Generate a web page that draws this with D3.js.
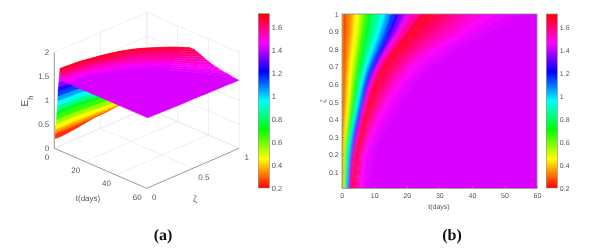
<!DOCTYPE html>
<html>
<head>
<meta charset="utf-8">
<script src="https://cdn.jsdelivr.net/npm/d3@7"></script>
<style>
    html, body { margin: 0; padding: 0; background: #fff; }
    svg { display: block; filter: blur(0.35px); }
    text { font-family: "Liberation Sans", Arial, sans-serif; fill: #555; text-rendering: geometricPrecision; }
</style>
</head>
<body>
<svg id="chart" width="598" height="248"></svg>
<script>
// zeta rows of the solution
var zetaRows = [0.01, 0.1, 0.2, 0.3, 0.4, 0.5, 0.6, 0.7, 0.8, 0.9, 1];

// lowest and highest E_h reached on each zeta row, and the value it settles to at t = 60
var troughValues = [0.19, 0.2, 0.22, 0.25, 0.28, 0.3, 0.32, 0.34, 0.36, 0.38, 0.4];
var ridgeValues = [1.71, 1.71, 1.71, 1.7, 1.7, 1.7, 1.69, 1.68, 1.67, 1.66, 1.65];
var plateauValues = [1.46, 1.455, 1.45, 1.445, 1.44, 1.44, 1.435, 1.43, 1.43, 1.425, 1.42];

// E_h levels in the order they are met along t
var levelValues = [0.46, 0.45, 0.3, 0.2, 0.3, 0.35, 0.4, 0.5, 0.6, 0.7, 0.8, 0.9, 1, 1.1, 1.2, 1.3, 1.4, 1.5, 1.6, 1.7,
    1.675, 1.65, 1.625, 1.6, 1.575, 1.55, 1.525, 1.5, 1.48, 1.46, 1.445, 1.43, 1.43];

// t(days) at which each level is met, one line per level, one column per zeta row
var tCrossings = [
    [0, 0, 0, 0, 0, 0, 0, 0, 0, 0, 0],
    [0.05, 0.05, 0.05, 0.1, 0.1, 0.15, 0.2, 0.2, 0.25, 0.3, 0.3],
    [0.1, 0.1, 0.1, 0.15, 0.15, 0.2, 0.25, 0.25, 0.3, 0.35, 0.4],
    [0.2, 0.2, 0.2, 0.25, 0.25, 0.3, 0.3, 0.35, 0.35, 0.4, 0.45],
    [0.3, 0.3, 0.35, 0.45, 0.55, 0.7, 0.8, 0.95, 1.1, 1.3, 1.5],
    [0.36, 0.4, 0.45, 0.65, 0.9, 1.15, 1.4, 1.7, 2.1, 2.6, 3],
    [0.42, 0.5, 0.55, 0.8, 1.2, 1.6, 1.9, 2.3, 2.9, 3.5, 4],
    [0.6, 0.7, 0.8, 1.2, 1.8, 2.4, 2.9, 3.5, 4.2, 5, 5.6],
    [0.8, 0.9, 1.05, 1.6, 2.3, 3, 3.6, 4.4, 5.2, 6.1, 7],
    [1, 1.1, 1.3, 2, 2.8, 3.6, 4.3, 5.2, 6.2, 7.2, 8.2],
    [1.2, 1.4, 1.6, 2.4, 3.3, 4.2, 5, 6.1, 7.4, 8.7, 10],
    [1.45, 1.7, 2, 2.8, 3.8, 4.8, 5.8, 7.1, 8.8, 10.5, 12.2],
    [1.65, 1.95, 2.35, 3.1, 4.2, 5.3, 6.4, 7.9, 9.9, 11.9, 14],
    [1.75, 2.15, 2.6, 3.5, 4.6, 5.9, 7, 8.7, 11, 13.2, 15.5],
    [1.85, 2.3, 2.9, 3.8, 5, 6.4, 7.6, 9.5, 12, 14.4, 16.9],
    [2.1, 2.55, 3.15, 4.15, 5.35, 6.7, 8.05, 10.1, 12.9, 15.6, 18.6],
    [2.35, 2.8, 3.4, 4.45, 5.65, 7, 8.5, 10.7, 13.6, 16.9, 20.3],
    [2.6, 3.05, 3.65, 4.8, 6, 7.3, 8.9, 11.2, 14.4, 18, 22],
    [2.9, 3.35, 3.95, 5.2, 6.5, 8, 9.8, 12.2, 15.8, 19.9, 25],
    [3.2, 3.7, 4.3, 5.6, 7, 8.7, 10.6, 13.3, 17.3, 21.8, 28],
    [3.4, 3.9, 4.5, 5.85, 7.3, 9.1, 11.1, 13.95, 18.15, 22.9, 29.5],
    [3.6, 4.1, 4.75, 6.1, 7.6, 9.5, 11.6, 14.6, 19, 24, 31],
    [3.9, 4.4, 5.05, 6.5, 8.1, 10.15, 12.4, 15.6, 20.25, 25.75, 33],
    [4.2, 4.7, 5.4, 6.9, 8.6, 10.8, 13.2, 16.6, 21.5, 27.5, 35],
    [4.5, 5, 5.7, 7.25, 9.05, 11.4, 14, 17.6, 22.75, 29.25, 36.75],
    [4.8, 5.3, 6, 7.6, 9.5, 12, 14.8, 18.6, 24, 31, 38.5],
    [5.15, 5.65, 6.35, 8.05, 10.05, 12.65, 15.65, 19.7, 25.5, 33, 40.75],
    [5.5, 6, 6.7, 8.5, 10.6, 13.3, 16.5, 20.8, 27, 35, 43],
    [5.85, 6.4, 7.15, 9.05, 11.3, 14.15, 17.55, 22.15, 28.5, 37, 46],
    [6.2, 6.8, 7.6, 9.6, 12, 15, 18.6, 23.5, 30, 39, 49],
    [7.1, 7.9, 8.8, 10.8, 13.5, 16.5, 20.3, 25.3, 32.5, 42, 53],
    [8, 9, 10, 12, 15, 18, 22, 27, 35, 45, 57],
    [60, 60, 60, 60, 60, 60, 60, 60, 60, 60, 60]
];

// colour range and ticks
var colorDomain = [0.2, 1.72];
var colorStops = ["#ff0000", "#ffff00", "#00ff00", "#00ffff", "#0000ff", "#ff00ff", "#ff0000"];
var colorTicks = [0.2, 0.4, 0.6, 0.8, 1, 1.2, 1.4, 1.6];
var tTicks3d = [0, 20, 40, 60];
var zetaTicks3d = [0, 0.5, 1];
var zTicks3d = [0, 0.5, 1, 1.5, 2];
var tTicksMap = [0, 10, 20, 30, 40, 50, 60];
var zetaTicksMap = [0.1, 0.2, 0.3, 0.4, 0.5, 0.6, 0.7, 0.8, 0.9, 1];

var axisColor = "#888";
var gridColor = "#e8e8e8";
var svg = d3.select("#chart");

// hsv style colour map over the E_h range
var colorValue = d3.scaleLinear()
    .domain(d3.range(colorStops.length).map(function (i) {
        return colorDomain[0] + (colorDomain[1] - colorDomain[0]) * i / (colorStops.length - 1);
    }))
    .range(colorStops)
    .clamp(true);

var defs = svg.append("defs");

var gradient = defs.append("linearGradient")
    .attr("id", "colorbarGradient")
    .attr("x1", 0).attr("x2", 0).attr("y1", 1).attr("y2", 0);
colorStops.forEach(function (c, i) {
    gradient.append("stop").attr("offset", i / (colorStops.length - 1)).attr("stop-color", c);
});

defs.append("filter").attr("id", "softMap")
    .attr("x", "-5%").attr("y", "-5%").attr("width", "110%").attr("height", "110%")
    .append("feGaussianBlur").attr("stdDeviation", 1);

defs.append("filter").attr("id", "softSurface")
    .attr("x", "-5%").attr("y", "-5%").attr("width", "110%").attr("height", "110%")
    .append("feGaussianBlur").attr("stdDeviation", 0.3);

defs.append("clipPath").attr("id", "mapClip")
    .append("rect").attr("x", 341.7).attr("y", 14).attr("width", 195.3).attr("height", 174);

function drawColorbar(x, y0, y1, fontSize) {
    var scale = d3.scaleLinear().domain(colorDomain).range([y1, y0]);
    var g = svg.append("g");
    g.append("rect")
        .attr("x", x).attr("y", y0)
        .attr("width", 11).attr("height", y1 - y0)
        .attr("fill", "url(#colorbarGradient)")
        .attr("stroke", axisColor)
        .attr("stroke-width", 0.6);
    g.selectAll("text").data(colorTicks).enter().append("text")
        .attr("x", x + 13.5)
        .attr("y", function (d) { return scale(d) + 2.6; })
        .style("font-size", fontSize + "px")
        .text(function (d) { return d; });
}

// ---------- (a) surface ----------
var originX = 54.3, originY = 148.3;
var tX = d3.scaleLinear().domain([0, 60]).range([0, 92.4]);
var tY = d3.scaleLinear().domain([0, 60]).range([0, 40]);
var zetaX = d3.scaleLinear().domain([0, 1]).range([0, 92.5]);
var zetaY = d3.scaleLinear().domain([0, 1]).range([0, -40]);
var zY = d3.scaleLinear().domain([0, 2]).range([0, -96]);

function px(t, zeta) { return originX + tX(t) + zetaX(zeta); }
function py(t, zeta, z) { return originY + tY(t) + zetaY(zeta) + zY(z); }

var panelA = svg.append("g");

function seg(g, x1, y1, x2, y2, color, w) {
    g.append("line")
        .attr("x1", x1).attr("y1", y1).attr("x2", x2).attr("y2", y2)
        .attr("stroke", color).attr("stroke-width", w);
}

// walls and floor grid
zTicks3d.forEach(function (z) {
    seg(panelA, px(0, 0), py(0, 0, z), px(0, 1), py(0, 1, z), gridColor, 0.7);
    seg(panelA, px(0, 1), py(0, 1, z), px(60, 1), py(60, 1, z), gridColor, 0.7);
});
tTicks3d.forEach(function (t) {
    seg(panelA, px(t, 0), py(t, 0, 0), px(t, 1), py(t, 1, 0), gridColor, 0.7);
    seg(panelA, px(t, 1), py(t, 1, 0), px(t, 1), py(t, 1, 2), gridColor, 0.7);
});
zetaTicks3d.forEach(function (zeta) {
    seg(panelA, px(0, zeta), py(0, zeta, 0), px(60, zeta), py(60, zeta, 0), gridColor, 0.7);
    seg(panelA, px(0, zeta), py(0, zeta, 0), px(0, zeta), py(0, zeta, 2), gridColor, 0.7);
});

// axes
seg(panelA, px(0, 0), py(0, 0, 0), px(0, 0), py(0, 0, 2), axisColor, 0.8);
seg(panelA, px(0, 0), py(0, 0, 0), px(60, 0), py(60, 0, 0), axisColor, 0.8);
seg(panelA, px(60, 0), py(60, 0, 0), px(60, 1), py(60, 1, 0), axisColor, 0.8);

// height of level line i on row j
function rowZ(i, j) {
    if (i >= levelValues.length - 2) return plateauValues[j];
    return Math.min(Math.max(levelValues[i], troughValues[j]), ridgeValues[j]);
}

// level ribbons are painted from far (small t) to near (large t)
var ribbons = d3.range(levelValues.length - 1);

var ribbonArea = d3.area().curve(d3.curveCatmullRom);

panelA.append("g")
    .attr("filter", "url(#softSurface)")
    .selectAll("path").data(ribbons).enter().append("path")
    .attr("d", function (i) {
        var a = tCrossings[i], b = tCrossings[i + 1];
        return ribbonArea
            .x0(function (zeta, j) { return px(a[j], zeta); })
            .y0(function (zeta, j) { return py(a[j], zeta, rowZ(i, j)); })
            .x1(function (zeta, j) { return px(b[j], zeta); })
            .y1(function (zeta, j) { return py(b[j], zeta, rowZ(i + 1, j)); })(zetaRows);
    })
    .attr("fill", function (i) { return colorValue((levelValues[i] + levelValues[i + 1]) / 2); })
    .attr("stroke", function (i) { return colorValue((levelValues[i] + levelValues[i + 1]) / 2); })
    .attr("stroke-width", 0.5);

// tick labels of the 3d box
panelA.selectAll(".zLabel").data(zTicks3d).enter().append("text")
    .attr("x", originX - 5)
    .attr("y", function (d) { return py(0, 0, d) + 2.8; })
    .attr("text-anchor", "end")
    .style("font-size", "8px")
    .text(function (d) { return d; });
panelA.selectAll(".tLabel").data(tTicks3d).enter().append("text")
    .attr("x", function (d) { return px(d, 0) - 5; })
    .attr("y", function (d) { return py(d, 0, 0) + 11.5; })
    .attr("text-anchor", "end")
    .style("font-size", "8px")
    .text(function (d) { return d; });
panelA.selectAll(".zetaLabel").data(zetaTicks3d).enter().append("text")
    .attr("x", function (d) { return px(60, d) + 5.3; })
    .attr("y", function (d) { return py(60, d, 0) + 11.5; })
    .style("font-size", "8px")
    .text(function (d) { return d; });

panelA.append("text")
    .attr("x", 88).attr("y", 201)
    .attr("text-anchor", "middle")
    .style("font-size", "8px")
    .text("t(days)");
panelA.append("text")
    .attr("x", 195).attr("y", 202)
    .attr("text-anchor", "middle")
    .style("font-size", "9px")
    .text("\u03b6");

var eLabel = panelA.append("text")
    .attr("transform", "translate(28,101) rotate(-90)")
    .attr("text-anchor", "middle")
    .style("font-size", "10px");
eLabel.append("tspan").text("E");
eLabel.append("tspan").attr("baseline-shift", "sub").style("font-size", "7.5px").text("h");

drawColorbar(258.3, 13.7, 188, 7.5);

// ---------- (b) colour map ----------
var mapX = d3.scaleLinear().domain([0, 60]).range([341.7, 537]);
var mapY = d3.scaleLinear().domain([0.01, 1]).range([188, 14]);

var panelB = svg.append("g");

// rows at the rim are pushed outwards so the soft edge stays out of the clipped box
function rimY(j) {
    var y = mapY(zetaRows[j]);
    if (j === 0) return y + 6;
    if (j === zetaRows.length - 1) return y - 6;
    return y;
}

var mapArea = d3.area().curve(d3.curveMonotoneY);

panelB.append("g")
    .attr("clip-path", "url(#mapClip)")
    .append("g")
    .attr("filter", "url(#softMap)")
    .selectAll("path").data(ribbons).enter().append("path")
    .attr("d", function (i) {
        var a = tCrossings[i], b = tCrossings[i + 1];
        return mapArea
            .y(function (zeta, j) { return rimY(j); })
            .x0(function (zeta, j) { return i === 0 ? mapX(a[j]) - 6 : mapX(a[j]); })
            .x1(function (zeta, j) { return i === ribbons.length - 1 ? mapX(b[j]) + 6 : mapX(b[j]); })(zetaRows);
    })
    .attr("fill", function (i) { return colorValue((levelValues[i] + levelValues[i + 1]) / 2); })
    .attr("stroke", function (i) { return colorValue((levelValues[i] + levelValues[i + 1]) / 2); })
    .attr("stroke-width", 0.5);

var xAxis = panelB.append("g")
    .attr("transform", "translate(0,188)")
    .call(d3.axisBottom(mapX).tickValues(tTicksMap).tickSizeInner(-2).tickSizeOuter(0).tickPadding(5));
var yAxis = panelB.append("g")
    .attr("transform", "translate(341.7,0)")
    .call(d3.axisLeft(mapY).tickValues(zetaTicksMap).tickFormat(d3.format("~g")).tickSizeInner(-2).tickSizeOuter(0).tickPadding(3));
[xAxis, yAxis].forEach(function (axis) {
    axis.selectAll("path,line").attr("stroke", axisColor).attr("stroke-width", 0.8);
    axis.selectAll("text").style("font-size", "7px").attr("fill", "#555");
});
panelB.append("path")
    .attr("d", d3.line()([[mapX(0), mapY(1)], [mapX(60), mapY(1)], [mapX(60), mapY(0.01)]]))
    .attr("fill", "none")
    .attr("stroke", axisColor)
    .attr("stroke-width", 0.8);

panelB.append("text")
    .attr("x", 439).attr("y", 209)
    .attr("text-anchor", "middle")
    .style("font-size", "7px")
    .text("t(days)");
panelB.append("text")
    .attr("transform", "translate(326,101) rotate(-90)")
    .attr("text-anchor", "middle")
    .style("font-size", "7.5px")
    .text("\u03b6");

drawColorbar(546.3, 14, 188, 7);

// captions
[["(a)", 163, 240], ["(b)", 452, 240]].forEach(function (c) {
    svg.append("text")
        .attr("x", c[1]).attr("y", c[2])
        .attr("text-anchor", "middle")
        .style("font-family", "'Liberation Serif', serif")
        .style("font-weight", "bold")
        .style("font-size", "16px")
        .style("fill", "#111")
        .text(c[0]);
});
</script>
</body>
</html>
